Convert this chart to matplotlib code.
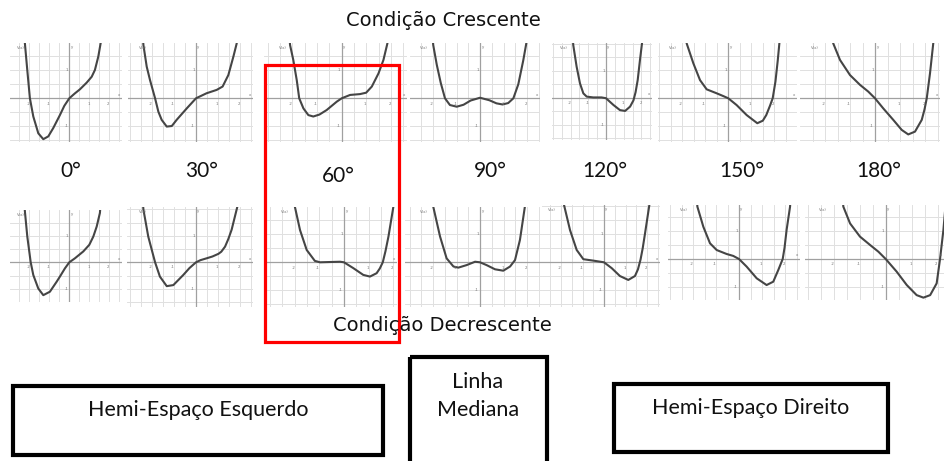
import numpy as np
import matplotlib.pyplot as plt
from matplotlib.patches import Rectangle

# rótulos dos ângulos
angles = ["0", "30", "60", "90", "120", "150", "180"]

# curvas V(x) (x nas unidades do eixo, y em unidades de 2 linhas de grade)
# condição crescente (linha de cima)
cresc_0 = [(-2.3, 2.6), (-2.22, 1.96), (-2.1, 1.0), (-1.97, 0.0), (-1.8, -0.65), (-1.55, -1.25),
           (-1.3, -1.46), (-1.05, -1.36), (-0.8, -1.06), (-0.47, -0.6), (-0.25, -0.27), (0.0, 0.0),
           (0.27, 0.17), (0.53, 0.32), (0.87, 0.56), (1.12, 0.77), (1.28, 1.01), (1.45, 1.49),
           (1.58, 2.02), (1.65, 2.5)]
cresc_30 = [(-2.45, 2.5), (-2.39, 1.9), (-2.24, 1.13), (-2.09, 0.65), (-1.86, 0.0), (-1.71, -0.48),
            (-1.56, -0.77), (-1.33, -1.01), (-1.1, -0.99), (-0.88, -0.77), (-0.42, -0.36), (0.0, 0.0),
            (0.48, 0.18), (0.94, 0.3), (1.21, 0.42), (1.47, 0.83), (1.7, 1.49), (1.85, 1.96), (1.92, 2.5)]
cresc_60 = [(-2.15, 2.5), (-2.09, 1.9), (-1.96, 1.37), (-1.82, 0.65), (-1.72, 0.0), (-1.55, -0.36),
            (-1.35, -0.6), (-1.15, -0.65), (-0.9, -0.58), (-0.61, -0.42), (-0.2, -0.12), (0.0, 0.0),
            (0.34, 0.12), (0.74, 0.15), (0.99, 0.2), (1.22, 0.42), (1.49, 0.89), (1.69, 1.37),
            (1.85, 1.96), (1.9, 2.5)]
cresc_90 = [(-2.05, 2.5), (-1.99, 1.9), (-1.84, 1.2), (-1.67, 0.55), (-1.49, 0.0), (-1.28, -0.24),
            (-0.99, -0.3), (-0.7, -0.23), (-0.4, -0.08), (0.0, 0.02), (0.4, -0.07), (0.7, -0.18),
            (0.96, -0.22), (1.2, -0.17), (1.42, 0.0), (1.63, 0.5), (1.84, 1.35), (1.97, 1.96), (2.03, 2.5)]
cresc_120 = [(-1.9, 2.5), (-1.85, 1.95), (-1.66, 1.15), (-1.47, 0.53), (-1.28, 0.16), (-1.09, 0.04),
             (-0.72, 0.01), (-0.25, 0.01), (0.0, -0.02), (0.42, -0.27), (0.79, -0.46), (1.08, -0.49),
             (1.36, -0.33), (1.55, -0.1), (1.67, 0.2), (1.79, 0.65), (1.92, 1.4), (2.05, 2.1), (2.1, 2.6)]
cresc_150 = [(-1.86, 2.5), (-1.81, 1.96), (-1.52, 1.25), (-1.23, 0.65), (-0.94, 0.32), (-0.51, 0.18),
             (-0.22, 0.08), (0.0, 0.0), (0.36, -0.24), (0.8, -0.6), (1.26, -0.89), (1.5, -0.8),
             (1.65, -0.6), (1.82, -0.25), (1.93, 0.0), (2.05, 0.6), (2.15, 1.35), (2.22, 1.96), (2.27, 2.5)]
cresc_180 = [(-1.72, 2.5), (-1.67, 1.96), (-1.4, 1.37), (-1.0, 0.83), (-0.6, 0.48), (-0.27, 0.24),
             (0.0, 0.0), (0.33, -0.36), (0.73, -0.77), (1.07, -1.13), (1.33, -1.29), (1.6, -1.19),
             (1.87, -0.77), (1.98, -0.4), (2.07, 0.0), (2.2, 0.89), (2.33, 1.96), (2.38, 2.5)]

# condição decrescente (linha de baixo)
decr_0 = [(-2.28, 2.5), (-2.22, 1.92), (-2.1, 0.97), (-1.93, 0.0), (-1.8, -0.48), (-1.55, -0.99),
          (-1.3, -1.24), (-0.97, -1.11), (-0.63, -0.73), (-0.47, -0.54), (-0.22, -0.23), (0.0, 0.0),
          (0.28, 0.15), (0.7, 0.41), (1.0, 0.66), (1.2, 0.97), (1.37, 1.35), (1.53, 1.86), (1.6, 2.5)]
decr_30 = [(-2.45, 2.6), (-2.39, 1.99), (-2.17, 0.97), (-1.86, 0.0), (-1.64, -0.54), (-1.33, -0.9),
           (-1.03, -0.86), (-0.58, -0.48), (-0.3, -0.22), (0.0, 0.0), (0.2, 0.08), (0.48, 0.15),
           (0.75, 0.22), (1.02, 0.32), (1.15, 0.4), (1.32, 0.59), (1.47, 0.88), (1.62, 1.23),
           (1.88, 2.1), (1.95, 2.6)]
decr_60 = [(-2.05, 2.6), (-1.99, 1.99), (-1.78, 1.15), (-1.51, 0.44), (-1.18, 0.05), (-0.97, 0.0),
           (-0.57, 0.01), (-0.16, 0.02), (0.0, 0.0), (0.38, -0.21), (0.78, -0.45), (1.05, -0.51),
           (1.32, -0.39), (1.45, -0.22), (1.57, 0.0), (1.68, 0.4), (1.8, 0.92), (2.0, 1.99), (2.05, 2.6)]
decr_90 = [(-2.05, 2.6), (-1.99, 1.99), (-1.7, 0.92), (-1.42, 0.14), (-1.13, -0.15), (-0.92, -0.19),
           (-0.57, -0.1), (-0.21, 0.02), (0.0, 0.0), (0.28, -0.1), (0.64, -0.25), (0.99, -0.3),
           (1.28, -0.15), (1.49, 0.08), (1.7, 0.8), (1.91, 1.99), (1.97, 2.6)]
decr_120 = [(-1.92, 2.6), (-1.86, 2.05), (-1.58, 1.15), (-1.27, 0.44), (-0.96, 0.11), (-0.5, 0.06),
            (0.0, 0.0), (0.36, -0.21), (0.74, -0.49), (1.13, -0.63), (1.44, -0.49), (1.58, -0.25),
            (1.7, 0.1), (1.8, 0.5), (1.91, 1.04), (2.11, 2.05), (2.16, 2.6)]
decr_150 = [(-1.86, 2.5), (-1.81, 1.87), (-1.55, 1.15), (-1.26, 0.56), (-0.97, 0.32), (-0.54, 0.18),
            (-0.25, 0.11), (0.0, 0.0), (0.33, -0.27), (0.77, -0.69), (1.2, -0.93), (1.49, -0.81),
            (1.71, -0.39), (1.9, 0.0), (1.98, 0.4), (2.07, 1.04), (2.22, 1.87), (2.27, 2.5)]
decr_180 = [(-1.68, 2.5), (-1.63, 1.87), (-1.37, 1.27), (-0.99, 0.8), (-0.6, 0.5), (-0.28, 0.26),
            (0.0, 0.0), (0.42, -0.45), (0.81, -0.93), (1.19, -1.29), (1.45, -1.38), (1.71, -1.29),
            (1.96, -0.87), (2.09, 0.0), (2.22, 1.04), (2.3, 1.9)]

cresc = [cresc_0, cresc_30, cresc_60, cresc_90, cresc_120, cresc_150, cresc_180]
decr = [decr_0, decr_30, decr_60, decr_90, decr_120, decr_150, decr_180]

# layout em pixels: caixa (x0, y0, x1, y1), origem (ox, oy), escala (sx, sy)
W, H = 944, 461
top_boxes = [(10, 43, 122, 142, 69.3, 98.3, 20, 28), (128, 43, 253, 142, 196, 98.3, 22, 28),
             (264, 43, 407, 142, 341.7, 98.3, 24.7, 28), (410, 43, 540, 142, 480, 98.3, 23.5, 28),
             (552, 43, 652, 140, 606, 97.7, 17.7, 27), (658, 43, 797, 142, 728.3, 98.3, 23, 28),
             (800, 43, 940, 142, 875, 98.3, 25, 28)]
bot_boxes = [(10, 210, 122, 302, 69.3, 262.3, 20, 26.5), (127, 207, 253, 307, 196, 262.3, 22, 26.5),
             (267, 207, 397, 307, 344, 262.3, 24.7, 28), (405, 207, 557, 307, 480, 262.3, 23.5, 28),
             (542, 205, 660, 307, 604, 262.3, 21.5, 28), (668, 205, 800, 300, 739, 259, 23, 28),
             (805, 205, 944, 300, 885.7, 259, 26, 28)]
label_pos = [(71, 171), (202, 171), (338, 176), (490, 171), (605, 171), (742, 171), (879, 171)]

fig = plt.figure(figsize=(W / 100, H / 100), dpi=100)


def thumb(box, pts):
    x0, y0, x1, y1, ox, oy, sx, sy = box
    ax = fig.add_axes([x0 / W, 1 - y1 / H, (x1 - x0) / W, (y1 - y0) / H])
    xl = ((x0 - ox) / sx, (x1 - ox) / sx)
    yl = ((oy - y1) / sy, (oy - y0) / sy)
    xt = np.arange(-3, 3.01, 0.5)
    yt = np.arange(-2, 2.51, 0.5)
    ax.set_xticks(xt[(xt > xl[0]) & (xt < xl[1])])
    ax.set_yticks(yt[(yt > yl[0]) & (yt < yl[1])])
    ax.set_xlim(xl)
    ax.set_ylim(yl)
    ax.grid(True, color="#e0e0e0", lw=0.7)
    ax.tick_params(length=0, labelbottom=False, labelleft=False)
    for s in ax.spines.values():
        s.set_visible(False)
    ax.axhline(0, color="#a0a0a0", lw=0.9)
    ax.axvline(0, color="#a0a0a0", lw=0.9)
    for v in [-2, -1, 1, 2]:
        ax.text(v - 0.05, -0.12, str(v), fontsize=2.8, color="#777", ha="center", va="top")
    ax.text(-0.05, 1.0, "1", fontsize=2.8, color="#777", ha="right", va="center")
    ax.text(-0.05, -1.0, "-1", fontsize=2.8, color="#777", ha="right", va="center")
    ax.text(0.06, yl[1] - 0.08, "y", fontsize=2.8, color="#777", ha="left", va="top")
    ax.text(-2.4, yl[1] - 0.12, "V(x)", fontsize=2.8, color="#777", ha="center", va="top")
    ax.text(xl[1] - 0.08, 0.06, "x", fontsize=2.8, color="#777", ha="right", va="bottom")
    xs = [p[0] for p in pts]
    ys = [p[1] for p in pts]
    ax.plot(xs, ys, color="#454545", lw=1.5, solid_joinstyle="round", solid_capstyle="round")


for box, pts in zip(top_boxes, cresc):
    thumb(box, pts)
for box, pts in zip(bot_boxes, decr):
    thumb(box, pts)

# camada por cima com textos e caixas (coordenadas em pixels)
ov = fig.add_axes([0, 0, 1, 1], zorder=10)
ov.set_xlim(0, W)
ov.set_ylim(H, 0)
ov.axis("off")
ov.patch.set_alpha(0)

ov.text(443, 21, "Condição Crescente", ha="center", va="center", fontsize=14, color="#111")
ov.text(442, 325, "Condição Decrescente", ha="center", va="center", fontsize=14, color="#111")
for a, (lx, ly) in zip(angles, label_pos):
    ov.text(lx, ly, a + "°", ha="center", va="center", fontsize=15,
            family=["Lato", "DejaVu Sans"], color="#111")

ov.add_patch(Rectangle((265, 65), 134, 277, fill=False, ec="#ff0000", lw=2.3))

boxfont = ["Lato", "DejaVu Sans"]
ov.add_patch(Rectangle((13, 386), 370, 69, fill=False, ec="black", lw=3))
ov.text(198, 410, "Hemi-Espaço Esquerdo", ha="center", va="center", fontsize=15.5, family=boxfont, color="#111")
ov.add_patch(Rectangle((410, 357), 137, 110, fill=False, ec="black", lw=3))
ov.text(478, 382, "Linha", ha="center", va="center", fontsize=15.5, family=boxfont, color="#111")
ov.text(478, 410, "Mediana", ha="center", va="center", fontsize=15.5, family=boxfont, color="#111")
ov.add_patch(Rectangle((614, 384), 274, 68, fill=False, ec="black", lw=3))
ov.text(751, 408, "Hemi-Espaço Direito", ha="center", va="center", fontsize=15.5, family=boxfont, color="#111")

fig.savefig("out.png", dpi=100)
